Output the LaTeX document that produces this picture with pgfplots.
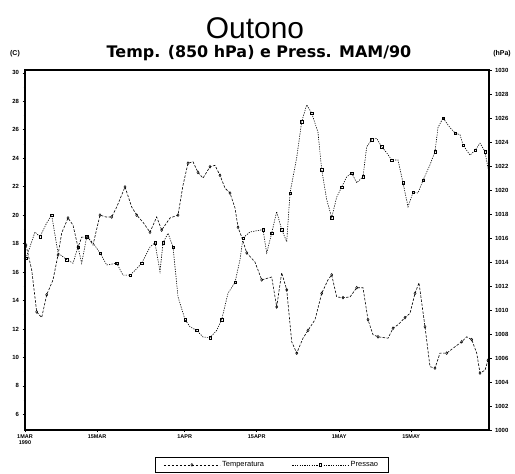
\documentclass[border=0pt]{standalone}
\usepackage{fontspec}
\setmainfont{Liberation Sans}
\newfontfamily\subfont{DejaVu Sans}
\usepackage{pgfplots}
\pgfplotsset{compat=1.18}
\begin{document}
\begin{tikzpicture}[x=1bp,y=1bp]
\useasboundingbox (0,0) rectangle (515,474);
\pgfplotsset{
  common/.style={
    at={(25bp,44bp)}, anchor=south west,
    width=464bp, height=360bp, scale only axis,
    xmin=0, xmax=90.1,
    /pgf/number format/assume math mode=true,
    tick label style={font=\fontsize{6}{7}\selectfont\bfseries},
    major tick length=2.5bp, minor tick length=1.5bp,
    tick align=outside,
    tick style={line width=0.6bp, black},
    axis line style={line width=1.4bp},
    clip=false,
  },
  tstyle/.style={black, line width=0.6bp, dash pattern=on 2.5bp off 1.5bp,
    mark=diamond, mark size=1.4bp, mark repeat=2, mark options={solid, line width=0.5bp, fill=white}},
  pstyle/.style={black, line width=0.6bp, dash pattern=on 1.2bp off 1.2bp,
    mark=square, mark size=1.2bp, mark repeat=2, mark options={solid, line width=0.5bp, fill=white}},
}
\begin{axis}[common,
  ymin=4.9, ymax=30.2,
  ytick={6,8,...,30},
  minor y tick num=1,
  ytick pos=left, xtick pos=bottom,
  xtick={0,14,31,45,61,75},
  xticklabels={{1MAR\\1990},15MAR,1APR,15APR,1MAY,15MAY},
  xticklabel style={align=center, font=\fontsize{5.5}{5.5}\selectfont\bfseries, yshift=1bp},
  legend columns=2,
  legend image code/.code={\draw[mark repeat=2,mark phase=2,#1] plot coordinates {(0bp,0bp) (28bp,0bp) (56bp,0bp)};},
  legend style={at={(0.532,-0.074)}, anchor=north, draw=black, line width=0.8bp,
    font=\fontsize{7.5}{9}\selectfont, inner xsep=8bp, inner ysep=2.5bp,
    /tikz/every even column/.append style={column sep=26bp}},
]
\addplot[tstyle] coordinates {
(0.19,17.9) (1.30,16.15) (2.27,13.2) (3.24,12.8) (4.21,14.4) (5.44,15.45) (6.41,17.2)
(7.13,18.75) (8.35,19.8) (9.32,19.3) (10.29,17.75) (11.01,18.45) (12.23,18.45) (13.20,17.9)
(14.56,20.0) (15.73,19.87) (16.83,19.87) (17.81,20.57) (19.42,21.98) (20.72,20.57)
(21.69,20.0) (22.91,19.5) (24.27,18.8) (25.57,19.87) (26.54,18.95) (28.16,19.8)
(29.71,20.0) (30.68,22.1) (31.65,23.65) (32.62,23.75) (33.59,23.0) (34.56,22.6)
(35.92,23.4) (36.89,23.5) (37.86,22.8) (38.83,21.9) (39.81,21.55) (40.78,20.5)
(41.36,19.15) (42.08,18.45) (43.05,17.35) (44.66,16.7) (45.96,15.45) (47.90,15.65)
(48.87,13.55) (49.84,15.95) (50.82,14.75) (51.79,11.1) (52.76,10.3) (53.98,11.35)
(54.95,11.9) (56.31,12.65) (57.61,14.5) (58.83,15.45) (59.55,15.8) (60.52,14.25)
(61.75,14.2) (63.11,14.25) (64.41,14.9) (65.63,14.9) (66.60,12.65) (67.57,11.6)
(68.54,11.45) (70.49,11.35) (71.46,12.05) (72.43,12.3) (73.79,12.8) (74.76,13.1)
(75.73,14.5) (76.50,15.25) (77.67,12.15) (78.64,9.35) (79.61,9.25) (80.58,10.3)
(81.88,10.3) (83.50,10.75) (84.80,11.1) (85.77,11.45) (86.74,11.25) (87.71,10.3)
(88.35,8.9) (89.32,9.1) (89.90,9.8)
};
\addlegendentry{Temperatura}
\addlegendimage{pstyle}
\addlegendentry{Pressao}
\end{axis}
\begin{axis}[common,
  ymin=1000, ymax=1030,
  ytick={1000,1002,...,1030},
  minor y tick num=1,
  axis x line=none,
  axis y line*=right,
  ytick pos=right,
  yticklabel style={/pgf/number format/.cd, 1000 sep={}},
]
\addplot[pstyle] coordinates {
(0.19,1014.3) (1.94,1016.5) (2.91,1016.1) (4.21,1017.25) (5.18,1017.9) (6.41,1014.75)
(8.10,1014.2) (9.32,1013.9) (10.29,1015.25) (11.01,1013.9) (11.98,1016.1) (13.20,1015.6)
(14.56,1014.75) (15.86,1013.75) (17.81,1013.9) (19.03,1012.9) (20.39,1012.9) (21.36,1013.3)
(22.66,1013.9) (24.27,1015.25) (25.24,1015.6) (26.21,1013.2) (26.80,1015.6) (27.77,1016.4)
(28.74,1015.25) (29.71,1011.1) (31.07,1009.2) (32.04,1008.6) (33.34,1008.3) (34.56,1007.75)
(35.92,1007.7) (37.22,1008.3) (38.19,1009.2) (39.42,1011.4) (40.78,1012.3) (41.75,1014.2)
(42.33,1016.0) (43.69,1016.5) (46.21,1016.7) (46.93,1014.75) (47.90,1016.4) (48.87,1018.2)
(49.84,1016.7) (50.82,1015.7) (51.46,1019.75) (52.76,1022.7) (53.73,1025.7) (54.70,1027.1)
(55.67,1026.4) (56.89,1024.8) (57.61,1021.7) (58.58,1019.2) (59.55,1017.7) (60.52,1019.4)
(61.49,1020.25) (62.47,1021.1) (63.44,1021.4) (64.41,1020.6) (65.63,1021.1) (66.35,1023.6)
(67.32,1024.2) (68.29,1024.3) (69.26,1023.6) (70.23,1023.1) (71.20,1022.5) (72.43,1022.5)
(73.40,1020.6) (74.37,1018.6) (75.34,1019.8) (76.31,1019.75) (77.28,1020.8) (78.64,1022.1)
(79.61,1023.2) (80.19,1025.2) (81.17,1026.0) (82.52,1025.2) (83.50,1024.75) (84.47,1024.6)
(85.05,1023.75) (86.41,1022.9) (87.38,1023.3) (88.35,1023.9) (89.32,1023.2) (89.90,1021.8)
};
\end{axis}
\node[font=\fontsize{30}{30}\selectfont] at (255,446) {Outono};
\node[font=\subfont\fontsize{16}{16}\selectfont\bfseries] at (259,421) {Temp. (850 hPa) e Press. MAM/90};
\node[font=\fontsize{7}{7}\selectfont\bfseries] at (15,420) {(C)};
\node[font=\fontsize{7}{7}\selectfont\bfseries] at (502,420) {(hPa)};
\end{tikzpicture}
\end{document}
